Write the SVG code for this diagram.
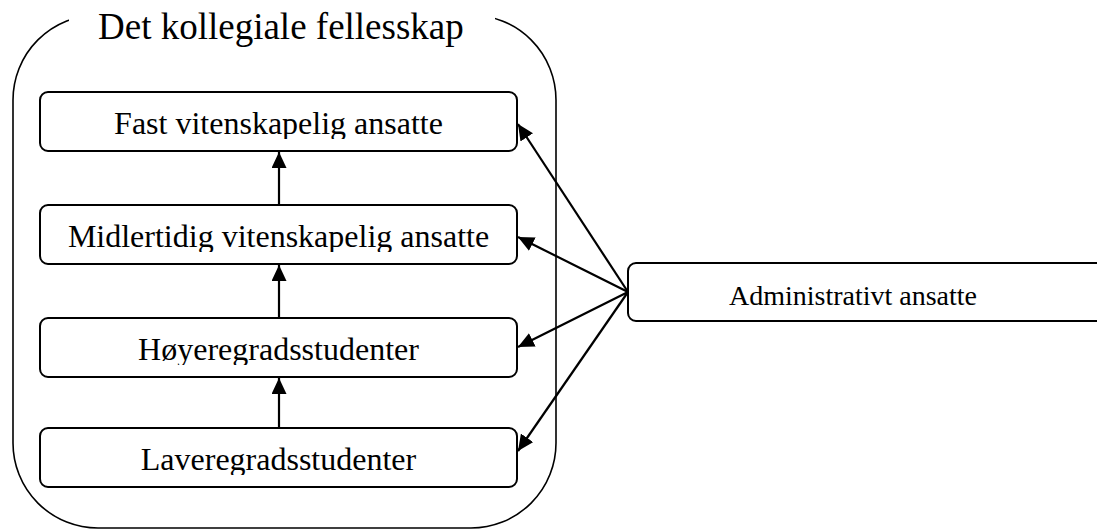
<svg xmlns="http://www.w3.org/2000/svg" width="1097" height="530" viewBox="0 0 1097 530">
<style>
.box{fill:#fff;stroke:#000;stroke-width:2}
.lbl{font-family:"Liberation Serif","Times New Roman",serif;font-size:32px;fill:#000;text-anchor:middle}
.adm{font-family:"Liberation Serif","Times New Roman",serif;font-size:28px;fill:#000;text-anchor:middle}
.title{font-family:"Liberation Serif","Times New Roman",serif;font-size:37px;fill:#000}
.conn{stroke:#000;stroke-width:2.2;fill:none;marker-end:url(#ah)}
</style>
<defs>
<marker id="ah" markerUnits="userSpaceOnUse" markerWidth="17" markerHeight="15" refX="16" refY="7.5" orient="auto">
<path d="M0,0 L16,7.5 L0,15 z" fill="#000"/>
</marker>
<clipPath id="c1"><rect x="40" y="92" width="477" height="47"/></clipPath>
<clipPath id="c2"><rect x="40" y="205" width="477" height="47"/></clipPath>
<clipPath id="c3"><rect x="40" y="318" width="477" height="47"/></clipPath>
<clipPath id="c4"><rect x="40" y="428" width="477" height="47"/></clipPath>
</defs>
<rect width="1097" height="530" fill="#fff"/>
<g id="container">
<rect x="13" y="15" width="543" height="513" rx="85" ry="85" fill="none" stroke="#000" stroke-width="1.6"/>
<rect x="69" y="0" width="426" height="26" fill="#fff"/>
<text class="title" x="98" y="39">Det kollegiale fellesskap</text>
</g>
<g id="n1">
<rect class="box" x="40" y="92" width="477" height="59" rx="8"/>
<text class="lbl" x="278.5" y="134" clip-path="url(#c1)">Fast vitenskapelig ansatte</text>
</g>
<g id="n2">
<rect class="box" x="40" y="205" width="477" height="59" rx="8"/>
<text class="lbl" x="278.5" y="247" clip-path="url(#c2)">Midlertidig vitenskapelig ansatte</text>
</g>
<g id="n3">
<rect class="box" x="40" y="318" width="477" height="59" rx="8"/>
<text class="lbl" x="278.5" y="360" clip-path="url(#c3)">Høyeregradsstudenter</text>
</g>
<g id="n4">
<rect class="box" x="40" y="428" width="477" height="59" rx="8"/>
<text class="lbl" x="278.5" y="470" clip-path="url(#c4)">Laveregradsstudenter</text>
</g>
<g id="admin">
<rect class="box" x="628" y="263" width="490" height="58" rx="8"/>
<text class="adm" x="853" y="305">Administrativt ansatte</text>
</g>
<g id="connectors">
<line class="conn" x1="279" y1="205" x2="279" y2="152"/>
<line class="conn" x1="279" y1="318" x2="279" y2="265"/>
<line class="conn" x1="279" y1="428" x2="279" y2="378"/>
<line class="conn" x1="628" y1="292" x2="518" y2="124"/>
<line class="conn" x1="628" y1="292" x2="518" y2="237"/>
<line class="conn" x1="628" y1="292" x2="518" y2="347"/>
<line class="conn" x1="628" y1="292" x2="518" y2="451"/>
</g>
</svg>
